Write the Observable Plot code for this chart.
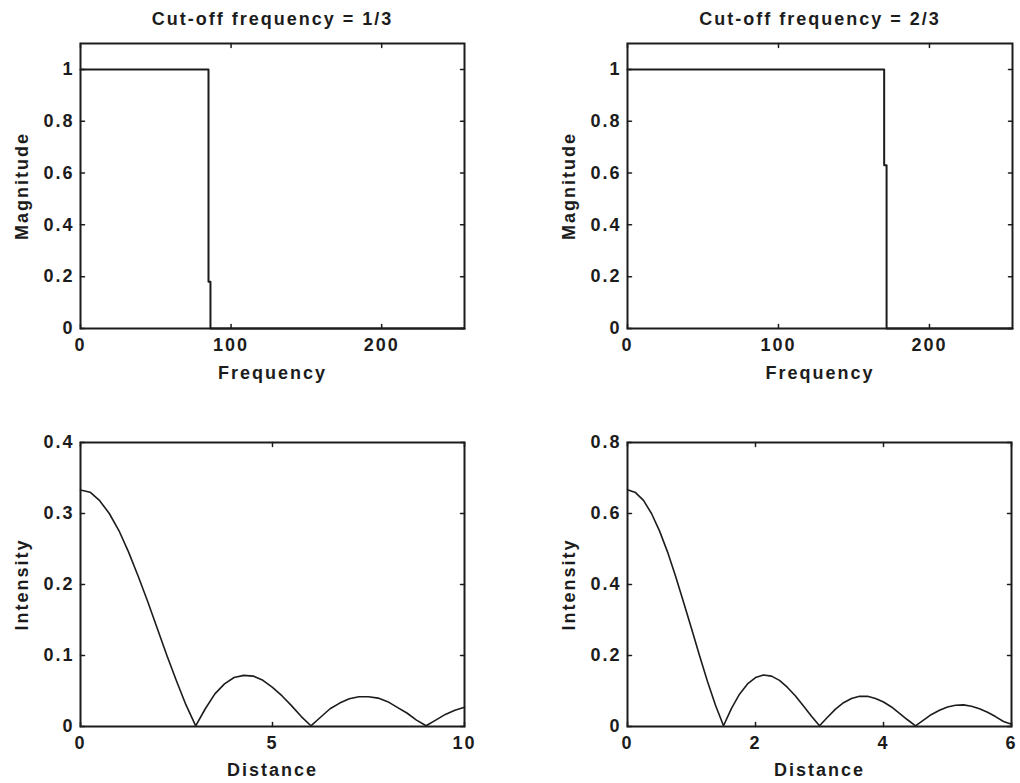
<!DOCTYPE html>
<html>
<head>
<meta charset="utf-8">
<script src="https://cdn.jsdelivr.net/npm/d3@7"></script>
<script src="https://cdn.jsdelivr.net/npm/@observablehq/plot@0.6"></script>
<style>
  html, body { margin: 0; padding: 0; background: #fff; }
  #wrap { position: relative; width: 1020px; height: 783px; overflow: hidden; background: #fff; }
  #wrap > svg { position: absolute; }
</style>
</head>
<body>
<div id="wrap"></div>
<script>
// ---- Data ----
const titles = ["Cut-off frequency = 1/3", "Cut-off frequency = 2/3"];
const freqLabel = "Frequency";
const magLabel = "Magnitude";
const distLabel = "Distance";
const intLabel = "Intensity";

// Ideal low-pass magnitude responses (step outlines)
const freq1 = [0, 85, 85, 86.3, 86.3, 255];
const mag1  = [1, 1, 0.18, 0.18, 0, 0];
const freq2 = [0, 170, 170, 171.6, 171.6, 255];
const mag2  = [1, 1, 0.63, 0.63, 0, 0];

// Spatial intensity, cut-off 1/3
const dist1 = [0,0.25,0.5,0.75,1,1.25,1.5,1.75,2,2.25,2.5,2.75,3,3.25,3.5,3.75,4,4.25,4.5,4.75,5,5.25,5.5,5.75,6,6.25,6.5,6.75,7,7.25,7.5,7.75,8,8.25,8.5,8.75,9,9.25,9.5,9.75,10];
const int1  = [0.333,0.330,0.318,0.300,0.276,0.246,0.212,0.176,0.138,0.100,0.064,0.030,0.001,0.025,0.046,0.060,0.069,0.072,0.071,0.065,0.055,0.043,0.029,0.014,0.001,0.013,0.025,0.033,0.039,0.042,0.042,0.040,0.035,0.027,0.019,0.009,0.001,0.009,0.017,0.023,0.027];

// Spatial intensity, cut-off 2/3
const dist2 = [0,0.125,0.25,0.375,0.5,0.625,0.75,0.875,1,1.125,1.25,1.375,1.5,1.625,1.75,1.875,2,2.125,2.25,2.375,2.5,2.625,2.75,2.875,3,3.125,3.25,3.375,3.5,3.625,3.75,3.875,4,4.125,4.25,4.375,4.5,4.625,4.75,4.875,5,5.125,5.25,5.375,5.5,5.625,5.75,5.875,6];
const int2  = [0.667,0.659,0.637,0.600,0.551,0.492,0.424,0.351,0.276,0.200,0.127,0.060,0.002,0.051,0.091,0.120,0.138,0.145,0.142,0.130,0.110,0.086,0.058,0.029,0.002,0.026,0.049,0.067,0.079,0.085,0.085,0.079,0.069,0.055,0.037,0.019,0.002,0.018,0.034,0.046,0.055,0.060,0.061,0.057,0.050,0.040,0.028,0.014,0.006];

// Ticks
const freqTicks = [0, 100, 200];
const magTicks = [0, 0.2, 0.4, 0.6, 0.8, 1];
const dist1Ticks = [0, 5, 10];
const int1Ticks = [0, 0.1, 0.2, 0.3, 0.4];
const dist2Ticks = [0, 2, 4, 6];
const int2Ticks = [0, 0.2, 0.4, 0.6, 0.8];

// ---- Drawing ----
const INK = "#1c1c1c";
const tickShape = {draw(ctx, l) { ctx.moveTo(0, 0); ctx.lineTo(0, -l); }};
const fmt = d => String(d);

function innerTicks(xt, yt) {
  const common = {length: 4, anchor: "start", shape: tickShape, stroke: INK, strokeWidth: 1.5};
  return [
    Plot.vector(xt, {...common, x: d => d, frameAnchor: "bottom", rotate: 0}),
    Plot.vector(xt, {...common, x: d => d, frameAnchor: "top", rotate: 180}),
    Plot.vector(yt, {...common, y: d => d, frameAnchor: "left", rotate: 90}),
    Plot.vector(yt, {...common, y: d => d, frameAnchor: "right", rotate: -90})
  ];
}

function panel({xs, ys, xDomain, yDomain, xt, yt, xl, yl, title, width, height, margins, lw, xlDy}) {
  const data = xs.map((x, i) => ({x, y: ys[i]}));
  const marks = [
    Plot.line(data, {x: "x", y: "y", stroke: INK, strokeWidth: lw}),
    Plot.frame({stroke: INK, strokeWidth: 2}),
    ...innerTicks(xt, yt),
    Plot.axisX({ticks: xt, tickSize: 0, tickPadding: 10, tickFormat: fmt, label: null, fill: INK}),
    Plot.axisY({ticks: yt, tickSize: 0, tickPadding: 6, tickFormat: fmt, label: null, fill: INK}),
    Plot.text([xl], {text: d => d, frameAnchor: "bottom", lineAnchor: "middle", textAnchor: "middle", dy: xlDy, fill: INK}),
    Plot.text([yl], {text: d => d, frameAnchor: "left", lineAnchor: "middle", textAnchor: "middle", rotate: -90, dx: -58, fill: INK})
  ];
  if (title) marks.push(Plot.text([title], {text: d => d, frameAnchor: "top", lineAnchor: "middle", textAnchor: "middle", dy: -24, fill: INK, letterSpacing: "2.8px"}));
  return Plot.plot({
    width, height,
    ...margins,
    x: {domain: xDomain, axis: null},
    y: {domain: yDomain, axis: null},
    style: {
      fontFamily: "'Liberation Sans', Arial, Helvetica, sans-serif",
      fontSize: "18px",
      fontWeight: "bold",
      letterSpacing: "2px",
      background: "transparent",
      color: INK,
      overflow: "visible"
    },
    marks
  });
}

const wrap = document.getElementById("wrap");

const tl = panel({xs: freq1, ys: mag1, xDomain: [0, 255], yDomain: [0, 1.1], xt: freqTicks, yt: magTicks,
  xl: freqLabel, yl: magLabel, title: titles[0], width: 510, height: 400, lw: 2, xlDy: 45,
  margins: {marginLeft: 80, marginRight: 46, marginTop: 43, marginBottom: 72}});
tl.style.left = "0px"; tl.style.top = "0px";

const tr = panel({xs: freq2, ys: mag2, xDomain: [0, 255], yDomain: [0, 1.1], xt: freqTicks, yt: magTicks,
  xl: freqLabel, yl: magLabel, title: titles[1], width: 510, height: 400, lw: 2, xlDy: 45,
  margins: {marginLeft: 117, marginRight: 8, marginTop: 43, marginBottom: 72}});
tr.style.left = "510px"; tr.style.top = "0px";

const bl = panel({xs: dist1, ys: int1, xDomain: [0, 10], yDomain: [0, 0.4], xt: dist1Ticks, yt: int1Ticks,
  xl: distLabel, yl: intLabel, title: null, width: 510, height: 383, lw: 1.6, xlDy: 44,
  margins: {marginLeft: 80, marginRight: 46, marginTop: 42, marginBottom: 57}});
bl.style.left = "0px"; bl.style.top = "400px";

const br = panel({xs: dist2, ys: int2, xDomain: [0, 6], yDomain: [0, 0.8], xt: dist2Ticks, yt: int2Ticks,
  xl: distLabel, yl: intLabel, title: null, width: 510, height: 383, lw: 1.6, xlDy: 44,
  margins: {marginLeft: 117, marginRight: 9, marginTop: 42, marginBottom: 57}});
br.style.left = "510px"; br.style.top = "400px";

wrap.append(tl, tr, bl, br);
</script>
</body>
</html>
